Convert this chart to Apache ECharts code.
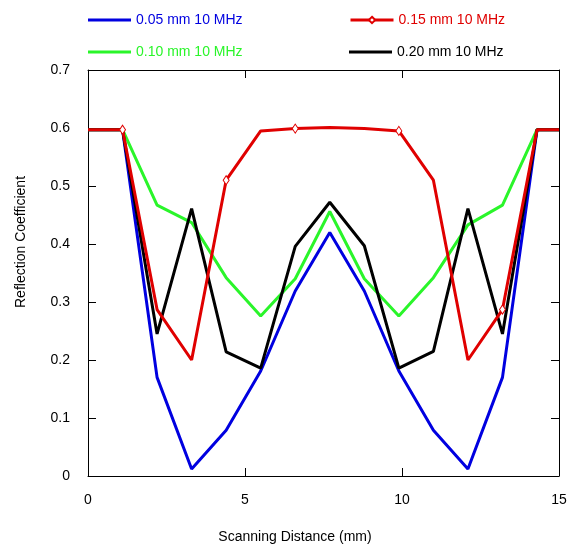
<!DOCTYPE html>
<html>
<head>
<meta charset="utf-8">
<script src="https://cdn.jsdelivr.net/npm/echarts@6/dist/echarts.min.js"></script>
<style>html,body{margin:0;padding:0;background:#fff;}#c{width:573px;height:549px;}</style>
</head>
<body>
<div id="c"></div>
<script>
var xValues = [0, 1.1, 2.2, 3.3, 4.4, 5.5, 6.6, 7.7, 8.8, 9.9, 11, 12.1, 13.2, 14.3, 15];
var s005 = [0.597, 0.597, 0.170, 0.012, 0.079, 0.181, 0.319, 0.420, 0.319, 0.181, 0.079, 0.012, 0.170, 0.597, 0.597];
var s010 = [0.597, 0.597, 0.467, 0.437, 0.342, 0.276, 0.340, 0.456, 0.340, 0.276, 0.342, 0.433, 0.467, 0.597, 0.597];
var s015 = [0.597, 0.597, 0.287, 0.200, 0.510, 0.595, 0.599, 0.601, 0.599, 0.595, 0.510, 0.200, 0.287, 0.597, 0.597];
var s020 = [0.597, 0.597, 0.245, 0.461, 0.214, 0.186, 0.396, 0.472, 0.397, 0.186, 0.215, 0.461, 0.245, 0.597, 0.597];
var redMarkerX = [1.1, 4.4, 6.6, 9.9, 13.2];
var names = ['0.05 mm 10 MHz', '0.15 mm 10 MHz', '0.10 mm 10 MHz', '0.20 mm 10 MHz'];
var yTicks = [0, 0.1, 0.2, 0.3, 0.4, 0.5, 0.6, 0.7];
var xTicks = [0, 5, 10, 15];

var BLUE = '#0000e0', RED = '#e00000', GREEN = '#2af52a', BLACK = '#000000';
var FONT = 'Liberation Sans, Arial, sans-serif';

function pairs(arr) { return xValues.map(function (x, i) { return [x, arr[i]]; }); }
function redPairs(arr) {
  return xValues.map(function (x, i) {
    var has = redMarkerX.indexOf(x) >= 0;
    return has ? { value: [x, arr[i]] } : { value: [x, arr[i]], symbol: 'none' };
  });
}

var chart = echarts.init(document.getElementById('c'), null, { renderer: 'canvas' });

function legendAt(name, color, left, top, plain) {
  var item = { name: name, textStyle: { color: color } };
  if (plain) { item.icon = 'rect'; item.itemStyle = { color: color }; }
  return {
    data: [item],
    left: left, top: top, padding: 0,
    itemWidth: 43, itemHeight: plain ? 3 : 8, itemGap: 5,
    lineStyle: { width: 3 },
    textStyle: { fontFamily: FONT, fontSize: 14, color: color },
    selectedMode: false
  };
}

function axisBase() {
  return {
    axisLine: { show: true, onZero: false, lineStyle: { color: '#000', width: 1 } },
    axisTick: { show: true, inside: true, length: 8, lineStyle: { color: '#000' } },
    splitLine: { show: false }
  };
}

var option = {
  animation: false,
  backgroundColor: '#fff',
  grid: { left: 88, right: 14, top: 70, bottom: 72, containLabel: false },
  legend: [
    legendAt(names[0], BLUE, 88, 13, true),
    legendAt(names[1], RED, 349, 13, false),
    legendAt(names[2], GREEN, 88, 45, true),
    legendAt(names[3], BLACK, 349, 45, true)
  ],
  xAxis: [
    Object.assign(axisBase(), {
      type: 'value', min: xTicks[0], max: xTicks[xTicks.length - 1], interval: 5,
      position: 'bottom',
      axisLabel: { fontFamily: FONT, fontSize: 14, color: '#000', margin: 17 },
      name: 'Scanning Distance (mm)', nameLocation: 'middle', nameGap: 54,
      nameTextStyle: { fontFamily: FONT, fontSize: 14, color: '#000', padding: [0, 57, 0, 0] }
    }),
    Object.assign(axisBase(), {
      type: 'value', min: 0, max: 15, interval: 5, position: 'top',
      axisLabel: { show: false }
    })
  ],
  yAxis: [
    Object.assign(axisBase(), {
      type: 'value', min: yTicks[0], max: yTicks[yTicks.length - 1], interval: 0.1,
      position: 'left',
      axisLabel: { fontFamily: FONT, fontSize: 14, color: '#000', margin: 18,
        formatter: function (v) { return v === 0 ? '0' : v.toFixed(1); } },
      name: 'Reflection Coefficient', nameLocation: 'middle', nameGap: 60,
      nameTextStyle: { fontFamily: FONT, fontSize: 14, color: '#000', padding: [0, 0, 0, 62] }
    }),
    Object.assign(axisBase(), {
      type: 'value', min: 0, max: 0.7, interval: 0.1, position: 'right',
      axisLabel: { show: false }
    })
  ],
  series: [
    { name: names[0], type: 'line', data: pairs(s005), symbol: 'none', z: 2,
      lineStyle: { color: BLUE, width: 3 }, itemStyle: { color: BLUE } },
    { name: names[2], type: 'line', data: pairs(s010), symbol: 'none', z: 3,
      lineStyle: { color: GREEN, width: 3 }, itemStyle: { color: GREEN } },
    { name: names[3], type: 'line', data: pairs(s020), symbol: 'none', z: 4,
      lineStyle: { color: BLACK, width: 3 }, itemStyle: { color: BLACK } },
    { name: names[1], type: 'line', data: redPairs(s015), symbol: 'diamond', symbolSize: [6, 9],
      showAllSymbol: true, z: 5,
      lineStyle: { color: RED, width: 3 },
      itemStyle: { color: '#fff', borderColor: RED, borderWidth: 1 } }
  ]
};
chart.setOption(option);
</script>
</body>
</html>
